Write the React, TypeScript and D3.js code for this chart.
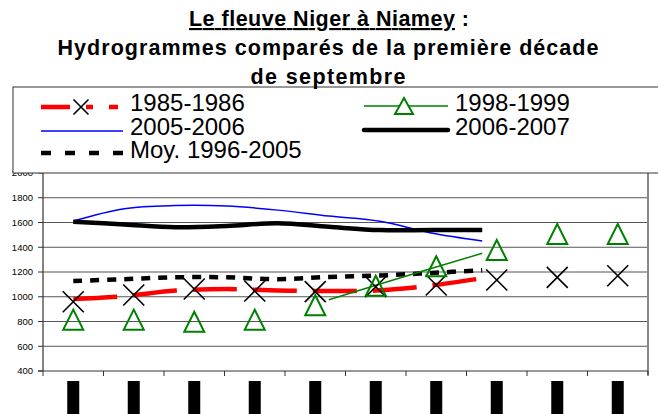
import * as d3 from 'd3';

// first décade of September, one category per day
const days = ['1', '2', '3', '4', '5', '6', '7', '8', '9', '10'];
const yTicks = [400, 600, 800, 1000, 1200, 1400, 1600, 1800, 2000];

// marker series (one value per day)
const x1985 = [960, 1014, 1063, 1046, 1041, 1081, 1095, 1135, 1157, 1170];
const tri1998 = [815, 815, 798, 815, 931, 1089, 1246, 1378, 1507, 1507];

// line series (9 points each)
const line1985 = [982, 1005, 1050, 1062, 1050, 1046, 1052, 1090, 1150];
const line1998 = [null, null, null, null, null, 976, 1103, 1228, 1351];
const line2005 = [1612, 1712, 1737, 1733, 1700, 1652, 1610, 1515, 1451];
const line2006 = [1606, 1584, 1562, 1572, 1594, 1565, 1539, 1539, 1539];
const lineMoy = [1127, 1142, 1157, 1157, 1142, 1160, 1172, 1192, 1215];

const W = 658;
const H = 414;
const FONT = '"Liberation Sans", Arial, sans-serif';

export default function App() {
  const left = 43;
  const right = 648;
  const top = 173;
  const bottom = 371;

  const x = d3.scaleBand().domain(days).range([left, right]).padding(0);
  const bw = x.bandwidth();
  const cx = (d: string) => (x(d) as number) + bw / 2;

  // the line series run over a shorter span than the markers
  const pos = d3.scaleLinear().domain([0, days.length]).range([left, right]);
  const xl = d3.scaleLinear().domain([0, 8]).range([pos(0.5), pos(7.26)]);

  const y = d3.scaleLinear().domain([400, 2000]).range([bottom, top]);

  const smooth = d3
    .line<number | null>()
    .defined((d) => d !== null)
    .x((_, i) => xl(i))
    .y((d) => y(d as number))
    .curve(d3.curveCatmullRom.alpha(0.5));
  const straight = d3
    .line<number | null>()
    .defined((d) => d !== null)
    .x((_, i) => xl(i))
    .y((d) => y(d as number));

  const cross = (px: number, py: number, r: number) =>
    `M${px - r},${py - r}L${px + r},${py + r}M${px + r},${py - r}L${px - r},${py + r}`;
  const tri = (px: number, py: number, w: number, h: number) =>
    `M${px},${py - h / 2}L${px + w / 2},${py + h / 2}L${px - w / 2},${py + h / 2}Z`;

  return (
    <svg
      width={W}
      height={H}
      style={{ position: 'absolute', left: 0, top: 0, background: '#fff' }}
      fontFamily={FONT}
    >
      {/* gridlines */}
      {yTicks.slice(1, -1).map((t) => (
        <line key={t} x1={left} x2={right} y1={y(t)} y2={y(t)} stroke="#555" strokeWidth={1} />
      ))}
      {/* plot frame */}
      <line x1={right} x2={right} y1={top} y2={bottom + 4} stroke="#888" strokeWidth={2} />
      <line x1={left} x2={left} y1={top} y2={bottom} stroke="#333" strokeWidth={1.2} />
      <line x1={left - 5} x2={right} y1={bottom} y2={bottom} stroke="#333" strokeWidth={1.2} />

      {/* y axis */}
      {yTicks.map((t) => (
        <g key={t}>
          <line x1={left - 5} x2={left} y1={y(t)} y2={y(t)} stroke="#333" />
          <text x={33} y={y(t)} dy="0.35em" textAnchor="end" fontSize={9.5} fill="#000">
            {t}
          </text>
        </g>
      ))}

      {/* x axis ticks and day labels (rendered as solid blocks in the source) */}
      {d3.range(days.length + 1).map((i) => (
        <line key={i} x1={pos(i)} x2={pos(i)} y1={bottom} y2={bottom + 5} stroke="#333" />
      ))}
      {days.map((d) => (
        <rect key={d} x={cx(d) - 6} y={381} width={12} height={40} fill="#000" />
      ))}

      {/* lines */}
      <path d={smooth(line2005) || ''} fill="none" stroke="#0000ff" strokeWidth={1.5} />
      <path d={smooth(line2006) || ''} fill="none" stroke="#000" strokeWidth={4.5} />
      <path d={smooth(lineMoy) || ''} fill="none" stroke="#000" strokeWidth={4.5} strokeDasharray="9 8" />
      <path d={smooth(line1985) || ''} fill="none" stroke="#ff0000" strokeWidth={4.5} strokeDasharray="44 16" />
      <path d={straight(line1998) || ''} fill="none" stroke="#008000" strokeWidth={1.5} />

      {/* markers */}
      {x1985.map((v, i) => (
        <path key={i} d={cross(cx(days[i]), y(v), 10.5)} stroke="#000" strokeWidth={1.6} fill="none" />
      ))}
      {tri1998.map((v, i) => (
        <path key={i} d={tri(cx(days[i]), y(v), 20, 20)} stroke="#008000" strokeWidth={2} fill="none" />
      ))}

      {/* legend */}
      <rect x={13} y={87} width={700} height={86} fill="#fff" stroke="#333" strokeWidth={1} />
      <g fontSize={24} fill="#000">
        <line x1={41} x2={118} y1={107} y2={107} stroke="#ff0000" strokeWidth={4.5} strokeDasharray="29 16 7 16" />
        <path d={cross(81, 107, 7.5)} stroke="#000" strokeWidth={1.6} />
        <text x={130} y={111}>1985-1986</text>

        <line x1={364} x2={448} y1={106} y2={106} stroke="#008000" strokeWidth={1.5} />
        <path d={tri(404, 106, 18, 16)} stroke="#008000" strokeWidth={2} fill="#fff" />
        <text x={455} y={111}>1998-1999</text>

        <line x1={41} x2={123} y1={131} y2={131} stroke="#0000ff" strokeWidth={1.5} />
        <text x={130} y={134.5}>2005-2006</text>

        <line x1={364} x2={448} y1={130} y2={130} stroke="#000" strokeWidth={4.5} strokeLinecap="round" />
        <text x={455} y={134.5}>2006-2007</text>

        <line x1={41} x2={123} y1={153} y2={153} stroke="#000" strokeWidth={4.5} strokeDasharray="10 14" />
        <text x={130} y={158}>Moy. 1996-2005</text>
      </g>

      {/* title, drawn last: the legend frame cuts its last line */}
      <g fontWeight="bold" fontSize={21.5} fill="#000" textAnchor="middle">
        <text x={329} y={26} textLength={280} lengthAdjust="spacing">
          <tspan textDecoration="underline">Le fleuve Niger à Niamey</tspan> :
        </text>
        <text x={328} y={55} textLength={541} lengthAdjust="spacing">
          Hydrogrammes comparés de la première décade
        </text>
        <text x={328} y={84} textLength={155} lengthAdjust="spacing">
          de septembre
        </text>
      </g>
    </svg>
  );
}
